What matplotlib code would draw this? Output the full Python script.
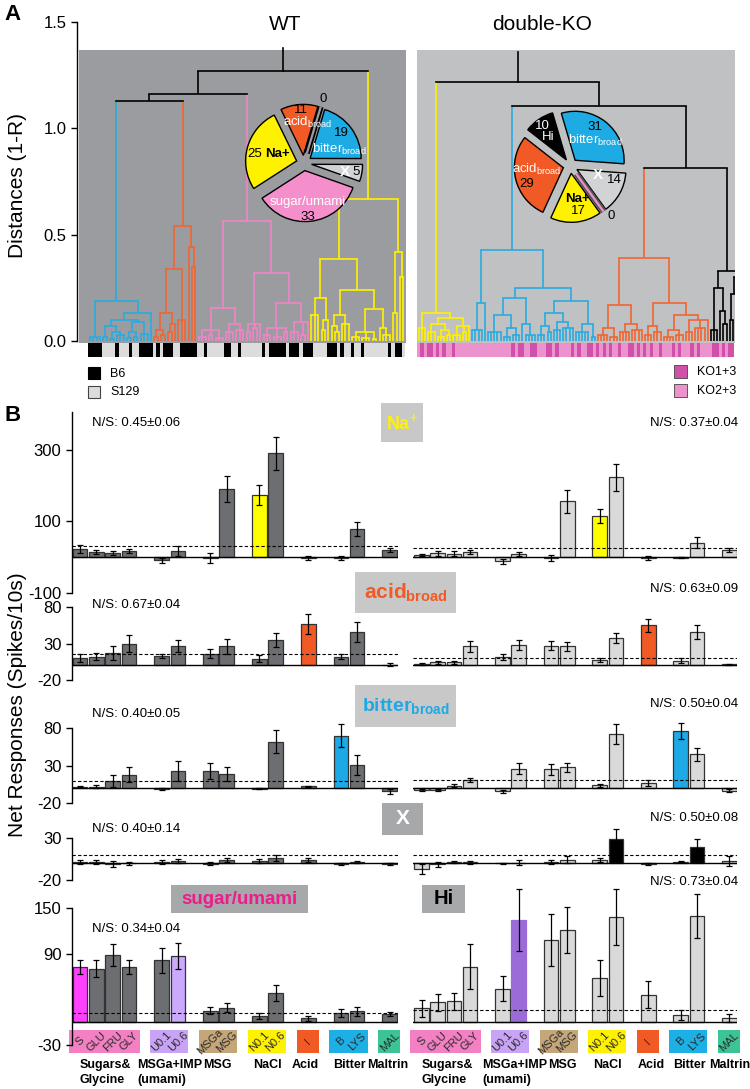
import matplotlib
matplotlib.use('Agg')
import matplotlib.pyplot as plt
from matplotlib.patches import Rectangle
import numpy as np

plt.rcParams.update({
    'font.family': ['Liberation Sans', 'DejaVu Sans'],
    'mathtext.fontset': 'custom',
    'mathtext.rm': 'Liberation Sans',
    'mathtext.it': 'Liberation Sans:italic',
    'mathtext.bf': 'Liberation Sans:bold',
    'axes.linewidth': 1.0,
})

# ---------------- panel A data ----------------
# trees: [merge height, child, child, ...]; 0 is a single neuron (leaf)
wt_blue = [0.19, [0.02, 0, 0, 0, 0],
           [0.13, [0.10, [0.07, [0.02, 0, 0], [0.04, [0.01, 0, 0], [0.03, 0, 0, 0]]],
                         [0.09, [0.04, [0.015, 0, 0], [0.02, 0, 0]], [0.035, 0, 0, 0]]], 0]]
wt_orange = [0.54, [0.34, [0.13, [0.05, [0.02, 0, 0], [0.03, 0, 0]], [0.08, [0.04, 0, 0], 0]],
                    [0.10, 0, 0, 0]],
             [0.44, 0, [0.35, 0, 0]]]
wt_pink = [0.565,
           [0.155, [0.05, [0.02, 0, 0, 0], [0.03, 0, 0], [0.015, 0, 0, 0]],
                   [0.08, [0.04, 0, 0, 0], [0.05, 0, 0, 0]]],
           [0.32, [0.08, [0.04, 0, 0], [0.06, 0, 0], 0],
                  [0.18, [0.06, [0.03, 0, 0, 0], [0.02, 0, 0, 0], [0.04, 0, 0]],
                         [0.09, [0.04, 0, 0, 0], [0.03, 0, 0], 0]]]]
wt_yellow = [0.67,
             [0.385, [0.20, [0.12, 0, 0, 0], [0.10, [0.05, 0, 0], 0]],
                     [0.24, [0.12, [0.07, 0, [0.04, 0, 0]], [0.08, 0, 0, 0]],
                            [0.15, [0.04, [0.02, 0, 0, 0], [0.015, 0, 0, 0], [0.01, 0, 0]],
                                   [0.06, 0, [0.03, 0, 0, 0]]]]],
             [0.42, [0.13, 0, 0], [0.30, 0, 0]]]
wt_top = [1.27, [1.16, [1.13, 'blue', 'orange'], 'pink'], 'yellow']

ko_yellow = [0.13, [0.06, 0, 0, 0],
             [0.11, [0.08, [0.04, 0, 0, 0], [0.05, [0.02, 0, 0, 0], [0.03, 0, 0]]],
                    [0.07, [0.03, 0, 0, 0], [0.04, 0, 0], 0]]]
ko_blue = [0.43, [0.18, [0.05, 0, 0, 0, 0], 0],
           [0.25, [0.20, [0.12, [0.04, 0, 0, 0, 0, 0], [0.06, [0.02, 0, 0, 0], [0.03, 0, 0, 0]]],
                         [0.08, 0, [0.03, 0, 0, 0, 0]]],
                  [0.19, [0.13, [0.07, [0.03, 0, 0, 0], [0.04, 0, 0]],
                                [0.09, [0.05, 0, 0, 0], [0.06, 0, 0, 0, 0]]],
                         [0.08, [0.04, 0, 0, 0, 0, 0], [0.02, 0, 0]]]]]
ko_orange = [0.39,
             [0.17, [0.06, [0.03, 0, 0, 0, 0], [0.02, 0, 0, 0]],
                    [0.08, [0.04, 0, 0, 0, 0], [0.05, 0, 0, 0, 0]]],
             [0.18, [0.07, [0.03, 0, 0, 0], [0.04, 0, 0, 0]],
                    [0.12, [0.05, [0.02, 0, 0, 0, 0], [0.03, 0, 0, 0]],
                           [0.10, [0.04, 0, 0, 0], [0.06, 0, 0, 0, 0], 0]]]]
ko_black = [0.33, [0.25, [0.05, 0, 0, 0], [0.14, 0, [0.08, 0, 0]]], [0.30, [0.22, [0.10, 0, 0], 0], 0]]
ko_top = [1.218, 'yellow', [1.105, 'blue', [0.815, 'orange', 'black']]]

# strain of each leaf: B = B6, S = S129 ; D = KO1+3, L = KO2+3
wt_strain = ("BBBBSSSSBS" "SSBSSBBBBS" "BSBBBSSBBB" "BBSSBSSSSS" "BBSSBSSSSS"
             "SBSBBBBBSB" "BBSBBBSSSS" "BBBSBSSBSS" "BSSSSSSSBS" "BBS")
ko_strain = ("LDLDDLDLDL" "LDLLLLLLLL" "LLLLLLLLLL" "DLDDLLDDLL" "LDDLDLLLLD"
             "LDLLDDLDLD" "LDLLDLLDDL" "DLDLDLLDLL" "LDLDLLLDLD" "LLLLDDLDLD" "D")

wt_pie_names = ['acid', 'bitter', 'X', 'sugar/umami', 'Na+']
wt_pie_counts = [11, 19, 5, 33, 25]
ko_pie_names = ['Hi', 'bitter', 'X', 'Na+', 'acid']
ko_pie_counts = [10, 31, 14, 17, 29]

# ---------------- panel B data ----------------
groups = ['Sugars&\nGlycine', 'MSGa+IMP\n(umami)', 'MSG', 'NaCl', 'Acid', 'Bitter', 'Maltrin']
stimuli = [['S', 'GLU', 'FRU', 'GLY'], ['U0.1', 'U0.6'], ['MSGa', 'MSG'], ['N0.1', 'N0.6'],
           ['I'], ['B', 'LYS'], ['MAL']]

wt_na = [22, 14, 12, 17, -9, 17, -2, 191, 173, 290, -3, -3, 78, 20]
wt_na_err = [11, 5, 6, 5, 6, 13, 13, 36, 28, 46, 6, 6, 19, 5]
ko_na = [5, 11, 10, 15, -12, 9, -3, 156, 116, 223, -3, -1, 41, 20]
ko_na_err = [3, 7, 6, 6, 8, 5, 9, 33, 20, 37, 5, 2, 15, 6]

wt_acid = [10, 12, 17, 30, 13, 27, 16, 26, 9, 35, 57, 12, 46, 1]
wt_acid_err = [6, 5, 9, 12, 3, 8, 6, 10, 5, 10, 14, 3, 14, 2]
ko_acid = [2, 4, 4, 26, 12, 28, 27, 26, 7.5, 37.5, 55, 6.7, 46, 1.5]
ko_acid_err = [1, 2, 2, 7, 4, 7, 6, 6, 3, 7, 9, 3, 10, 1]

wt_bitter = [2, 2, 9, 18, -1.5, 23, 23, 19, -1, 62, 2.3, 70, 31, -4.5]
wt_bitter_err = [1, 2, 8, 10, 1, 13, 11, 9.5, 0.5, 15, 1, 15, 13, 3]
ko_bitter = [-2.7, -2.7, 3.2, 11, -4, 26, 25, 28, 4, 72, 7, 76, 45, -3.6]
ko_bitter_err = [1.5, 1, 2, 3, 2, 7, 7, 6, 2, 13.5, 4, 11, 9, 2]

wt_x = [1.2, 1.2, -1.2, -0.5, 1.2, 2.4, -0.8, 3.6, 2.4, 6, 3.6, -1, 1.2, -1.2]
wt_x_err = [2.5, 2, 3, 2, 2, 2.5, 2, 2.5, 2, 3.5, 2, 1.5, 1, 1.5]
ko_x = [-7.5, -1.6, 1.2, 0.8, -0.4, 0.4, 1.6, 4, 4, 29, -0.8, 1.6, 19, 2.8]
ko_x_err = [6, 3, 1, 2, 0.5, 3, 2.5, 4.5, 2.5, 11, 1, 1, 10, 6]

wt_sugar = [72, 70, 88, 72, 81, 87, 15, 19, 8, 38, 5, 12, 14, 10]
wt_sugar_err = [9, 11, 14, 9, 17, 17, 5, 5.5, 4, 11, 3.5, 5.5, 6, 2.5]
ko_hi = [18, 26, 27, 73, 44, 134, 108, 121, 58, 138, 36, 9, 139, 5]
ko_hi_err = [11, 11, 11, 30, 17, 41, 34, 30, 24, 37, 17.5, 6.5, 29, 5.5]

wt_threshold = [32, 15, 10, 9.5, 12]
ko_threshold = [25, 10, 11, 9.5, 16]
wt_ns = ['0.45±0.06', '0.67±0.04', '0.40±0.05', '0.40±0.14', '0.34±0.04']
ko_ns = ['0.37±0.04', '0.63±0.09', '0.50±0.04', '0.50±0.08', '0.73±0.04']

# ---------------- colours ----------------
C_BLUE, C_ORANGE, C_PINK, C_YELLOW = '#29ABE2', '#F26532', '#F084C8', '#FFF200'
tree_cols = {'blue': C_BLUE, 'orange': C_ORANGE, 'pink': C_PINK, 'yellow': C_YELLOW, 'black': 'k'}
strain_cols = {'B': 'black', 'S': '#DCDCDC', 'D': '#D050AA', 'L': '#EC93CE'}
pie_cols = {'acid': '#F15A24', 'bitter': '#1EABE3', 'X': '#D1D3D4', 'sugar/umami': '#F58FCC',
            'Na+': '#FFF200', 'Hi': 'black'}
box_cols = ['#F480C4', '#C9A3F5', '#C4A678', '#FFF200', '#F15A24', '#1CB0E6', '#3CC496']

W, H = 750, 1089
fig = plt.figure(figsize=(W / 100, H / 100), dpi=100)


def rect_px(x0, y0, x1, y1):
    return [x0 / W, 1 - y1 / H, (x1 - x0) / W, (y1 - y0) / H]


def ftext(x, y, s, **kw):
    fig.text(x / W, 1 - y / H, s, **kw)


def draw_tree(ax, node, col, trees, pos):
    if isinstance(node, str):
        return draw_tree(ax, trees[node], tree_cols[node], trees, pos)
    if not isinstance(node, list):
        x = pos[0]
        pos[0] += 1
        return x, 0.0, col
    h = node[0]
    kids = [draw_tree(ax, c, col, trees, pos) for c in node[1:]]
    for x, kh, kc in kids:
        ax.plot([x, x], [kh, h], color=kc, lw=1.2, solid_capstyle='butt')
    ax.plot([kids[0][0], kids[-1][0]], [h, h], color=col, lw=1.2, solid_capstyle='projecting')
    return (kids[0][0] + kids[-1][0]) / 2, h, col


def dendro(box, xlim, bg, top, trees, stem_top, strain, gray_x0):
    ax = fig.add_axes(rect_px(*box))
    ax.set_xlim(xlim)
    ax.set_ylim(-0.08, 1.5)
    ax.add_patch(Rectangle((gray_x0, -0.008), xlim[1] - gray_x0, 1.376, fc=bg, ec='none', zorder=0))
    xr, hr, _ = draw_tree(ax, top, 'k', trees, [0])
    ax.plot([xr, xr], [hr, stem_top], color='k', lw=1.2)
    n = len(strain)
    ax.bar(np.arange(n), 0.069, bottom=-0.077, width=1.0,
           color=[strain_cols[s] for s in strain], lw=0)
    for s in ['top', 'right', 'bottom']:
        ax.spines[s].set_visible(False)
    ax.set_xticks([])
    return ax


# ---------------- panel A ----------------
ax_wt = dendro((77, 22, 406, 358), (-3.72, 92.76), '#9B9C9F', wt_top,
               {'blue': wt_blue, 'orange': wt_orange, 'pink': wt_pink, 'yellow': wt_yellow},
               1.38, wt_strain, -3.14)
ax_wt.spines['left'].set_bounds(0, 1.5)
ax_wt.set_yticks([0, 0.5, 1.0, 1.5])
ax_wt.set_yticklabels(['0.0', '0.5', '1.0', '1.5'])
ax_wt.tick_params(axis='y', labelsize=12, length=4, width=1)

ax_ko = dendro((417, 22, 735, 358), (-0.6, 100.7), '#C0C1C3', ko_top,
               {'yellow': ko_yellow, 'blue': ko_blue, 'orange': ko_orange, 'black': ko_black},
               1.36, ko_strain, -0.6)
ax_ko.spines['left'].set_visible(False)
ax_ko.set_yticks([])

ftext(285, 24, 'WT', ha='center', va='center', fontsize=15)
ftext(542, 24, 'double-KO', ha='center', va='center', fontsize=15)
ftext(4, 14, 'A', ha='left', va='center', fontsize=16, fontweight='bold')
ftext(18, 185, 'Distances (1-R)', rotation=90, ha='center', va='center', fontsize=15)

# legends for strains
fig.add_artist(Rectangle((88 / W, 1 - 379 / H), 12 / W, 12 / H, transform=fig.transFigure,
                         fc='black', ec='black', lw=0.8))
fig.add_artist(Rectangle((88 / W, 1 - 398 / H), 12 / W, 12 / H, transform=fig.transFigure,
                         fc='#DCDCDC', ec='#444444', lw=0.8))
ftext(110, 374, 'B6', va='center', fontsize=9)
ftext(110, 392, 'S129', va='center', fontsize=9)
fig.add_artist(Rectangle((674 / W, 1 - 378 / H), 13 / W, 13 / H, transform=fig.transFigure,
                         fc='#D050AA', ec='#444444', lw=0.6))
fig.add_artist(Rectangle((674 / W, 1 - 397 / H), 13 / W, 13 / H, transform=fig.transFigure,
                         fc='#EC93CE', ec='#444444', lw=0.6))
ftext(697, 372, 'KO1+3', va='center', fontsize=9)
ftext(697, 391, 'KO2+3', va='center', fontsize=9)


def pie_inset(cx, cy, r_px, names, counts, start):
    half = 82
    ax = fig.add_axes(rect_px(cx - half, cy - half, cx + half, cy + half))
    ax.pie(counts, colors=[pie_cols[n] for n in names], startangle=start, counterclock=False,
           explode=[0.15] * len(counts), wedgeprops=dict(edgecolor='black', lw=1.0))
    lim = half / r_px
    ax.set_xlim(-lim, lim)
    ax.set_ylim(-lim, lim)
    ax.axis('off')
    return ax


def sliver(ax, angle, face, edge):
    t = np.deg2rad(angle)
    r = np.array([0.2, 1.15])
    ax.plot(r * np.cos(t), r * np.sin(t), color=edge, lw=4.2, solid_capstyle='butt')
    ax.plot(r * np.cos(t), r * np.sin(t), color=face, lw=1.6, solid_capstyle='butt')


# WT pie
wt_start = 116
pa = pie_inset(304, 163, 51, wt_pie_names, wt_pie_counts, wt_start)
sliver(pa, wt_start - 360 * wt_pie_counts[0] / sum(wt_pie_counts), '#9B9C9F', 'black')
pk = dict(ha='center', va='center', fontsize=9.5)
pa.text(-0.05, 1.04, str(wt_pie_counts[0]), **pk)
pa.text(0.07, 0.80, r'acid$_{\mathrm{broad}}$', color='white', **pk)
pa.text(0.38, 1.25, '0', **pk)
pa.text(0.74, 0.59, str(wt_pie_counts[1]), **pk)
pa.text(0.70, 0.27, r'bitter$_{\mathrm{broad}}$', color='white', **pk)
pa.text(-0.96, 0.18, str(wt_pie_counts[4]), **pk)
pa.text(-0.52, 0.18, 'Na+', fontweight='bold', **pk)
pa.text(0.80, -0.17, 'X', color='white', fontweight='bold', ha='center', va='center', fontsize=11)
pa.text(1.02, -0.18, str(wt_pie_counts[2]), **pk)
pa.text(0.08, -0.76, 'sugar/umami', color='white', **pk)
pa.text(0.08, -1.05, str(wt_pie_counts[3]), **pk)

# KO pie
ko_start = 142
pb = pie_inset(570.5, 166, 49, ko_pie_names, ko_pie_counts, ko_start)
sliver(pb, ko_start - 360 * sum(ko_pie_counts[:3]) / sum(ko_pie_counts), '#EE8FCF', '#555555')
pb.text(-0.57, 0.82, str(ko_pie_counts[0]), color='white', **pk)
pb.text(-0.45, 0.60, 'Hi', color='white', **pk)
pb.text(0.49, 0.80, str(ko_pie_counts[1]), **pk)
pb.text(0.50, 0.52, r'bitter$_{\mathrm{broad}}$', color='white', **pk)
pb.text(-0.69, -0.08, r'acid$_{\mathrm{broad}}$', color='white', **pk)
pb.text(-0.89, -0.37, str(ko_pie_counts[4]), **pk)
pb.text(0.56, -0.18, 'X', color='white', fontweight='bold', ha='center', va='center', fontsize=11)
pb.text(0.89, -0.29, str(ko_pie_counts[2]), **pk)
pb.text(0.15, -0.67, 'Na+', fontweight='bold', **pk)
pb.text(0.16, -0.91, str(ko_pie_counts[3]), **pk)
pb.text(0.84, -1.02, '0', **pk)

# ---------------- panel B ----------------
xpos, flat, spans = [], [], []
p = 0
for g in stimuli:
    spans.append((p, p + len(g) - 1))
    for s in g:
        xpos.append(p)
        flat.append(s)
        p += 1
    p += 1
xpos = np.array(xpos)

rows = [
    (wt_na, wt_na_err, ko_na, ko_na_err, (-100, 405), [-100, 100, 300], (412.2, 593),
     {'N0.1': '#FFFF00'}, {'N0.1': '#FFFF00'}),
    (wt_acid, wt_acid_err, ko_acid, ko_acid_err, (-20, 80), [-20, 30, 80], (607, 680),
     {'I': '#F15A24'}, {'I': '#F15A24'}),
    (wt_bitter, wt_bitter_err, ko_bitter, ko_bitter_err, (-20, 80), [-20, 30, 80], (728, 803),
     {'B': '#1CA9E6'}, {'B': '#1CA9E6'}),
    (wt_x, wt_x_err, ko_x, ko_x_err, (-20, 30), [-20, 30], (837.8, 879.8),
     {}, {'N0.6': 'black', 'LYS': 'black'}),
    (wt_sugar, wt_sugar_err, ko_hi, ko_hi_err, (-30, 150), [-30, 90, 150], (908, 1044.8),
     {'S': '#FF40FF', 'U0.6': '#CBA9FF'}, {'U0.6': '#9B6CD8'}),
]


def bar_row(ax, vals, errs, hi, base, thr, ylim):
    cols = [hi.get(s, base) for s in flat]
    edges = [c if c == '#9B6CD8' else '#333333' for c in cols]
    ax.bar(xpos, vals, width=0.9, color=cols, edgecolor=edges, lw=0.9, zorder=2)
    eb = ax.errorbar(xpos, vals, yerr=errs, fmt='none', ecolor='black', elinewidth=0.9,
                     capsize=2.2, capthick=0.9, zorder=3)
    for art in list(eb.lines[1]) + list(eb.lines[2]):
        art.set_clip_on(False)
    ax.axhline(0, color='black', lw=1.0, zorder=4)
    ax.axhline(thr, color='black', lw=0.8, ls=(0, (3, 2)), zorder=4)
    ax.set_xlim(-0.5, 19.5)
    ax.set_ylim(ylim)
    ax.set_xticks([])
    for s in ['top', 'right', 'bottom']:
        ax.spines[s].set_visible(False)
    ax.patch.set_alpha(0)


axes_b = []
for i, (wv, we, kv, ke, ylim, ticks, (ytop, ybot), hw, hk) in enumerate(rows):
    axl = fig.add_axes(rect_px(71.9, ytop, 397.9, ybot))
    bar_row(axl, wv, we, hw, '#6D6E71', wt_threshold[i], ylim)
    axl.set_yticks(ticks)
    axl.set_yticklabels([str(t) for t in ticks])
    axl.tick_params(axis='y', labelsize=12, length=4, width=1)
    axr = fig.add_axes(rect_px(413.4, ytop, 737.4, ybot))
    bar_row(axr, kv, ke, hk, '#D9D9D9', ko_threshold[i], ylim)
    axr.spines['left'].set_visible(False)
    axr.set_yticks([])
    axes_b.append((axl, axr))

# stimulus boxes under bottom row
for ax in axes_b[-1]:
    for (a, b), g, fc in zip(spans, stimuli, box_cols):
        ax.add_patch(Rectangle((a - 0.7, -41), b - a + 1.35, 30.5, fc=fc, ec='none', clip_on=False))
        for k, s in enumerate(g):
            ax.text(a + k, -26, s, rotation=45, ha='center', va='center', fontsize=8,
                    color='#2a2a2a', clip_on=False)

# group names
left_lab = [(80, 'left'), (137, 'left'), (217, 'center'), (267, 'center'), (305, 'center'),
            (349, 'center'), (388, 'center')]
right_lab = [(422, 'left'), (482, 'left'), (562, 'center'), (607, 'center'), (651, 'center'),
             (689, 'center'), (730, 'center')]
for labs in (left_lab, right_lab):
    for (x, ha), g in zip(labs, groups):
        ftext(x, 1059, g, ha=ha, va='top', fontsize=9, fontweight='bold', multialignment='left',
              linespacing=1.3)

# N/S texts
ns_left_y = [423, 605, 714, 829, 929]
ns_right_y = [423, 589, 704, 818, 882]
for i in range(5):
    ftext(92, ns_left_y[i], 'N/S: ' + wt_ns[i], va='center', fontsize=9.5)
    ftext(738, ns_right_y[i], 'N/S: ' + ko_ns[i], ha='right', va='center', fontsize=9.5)


def title_box(x0, y0, x1, y1, fc, s, color, size):
    fig.add_artist(Rectangle((x0 / W, 1 - y1 / H), (x1 - x0) / W, (y1 - y0) / H,
                             transform=fig.transFigure, fc=fc, ec='none'))
    ftext((x0 + x1) / 2, (y0 + y1) / 2, s, ha='center', va='center', color=color,
          fontsize=size, fontweight='bold')


title_box(381, 403, 423, 442, '#C8C8C8', r'Na$^{\mathbf{+}}$', '#FFF200', 13)
title_box(355, 572, 456, 613, '#C8C8C8', r'acid$_{\mathbf{broad}}$', '#F15A24', 15)
title_box(355, 685, 456, 727, '#C8C8C8', r'bitter$_{\mathbf{broad}}$', '#1CA9E6', 14)
title_box(382, 803, 423, 835, '#A7A8AA', 'X', 'white', 15)
title_box(171, 885, 308, 913, '#A7A8AA', 'sugar/umami', '#EC1C8C', 13.5)
title_box(422, 885, 465, 913, '#A7A8AA', 'Hi', 'black', 14.5)

ftext(4, 416, 'B', ha='left', va='center', fontsize=16, fontweight='bold')
ftext(18, 705, 'Net Responses (Spikes/10s)', rotation=90, ha='center', va='center', fontsize=15)

fig.savefig('out.png', dpi=100)
